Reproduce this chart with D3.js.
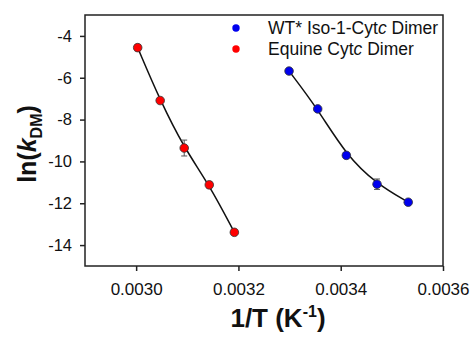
<!DOCTYPE html>
<html>
<head>
<meta charset="utf-8">
<script src="https://cdn.jsdelivr.net/npm/d3@7"></script>
<style>
  body { margin: 0; background: #fff; }
  text { font-family: "Liberation Sans", Arial, sans-serif; }
</style>
</head>
<body>
<script>
// values
var equineX = [0.003003, 0.003047, 0.003094, 0.003143, 0.003192];
var equineY = [-4.56, -7.09, -9.36, -11.12, -13.39];
var equineErr = [0.15, 0.08, 0.38, 0.15, 0.05];

var wtX = [0.003299, 0.003355, 0.003411, 0.003471, 0.003532];
var wtY = [-5.68, -7.49, -9.71, -11.09, -11.95];
var wtErr = [0.05, 0.05, 0.05, 0.25, 0.05];

var xTicks = [0.0030, 0.0032, 0.0034, 0.0036];
var yTicks = [-4, -6, -8, -10, -12, -14];
var legendLabels = ["WT* Iso-1-Cyt", "Equine Cyt"];

var width = 471, height = 340;
var svg = d3.select("body").append("svg")
    .attr("width", width)
    .attr("height", height);

var x = d3.scaleLinear().domain([0.0029, 0.0036]).range([85, 443]);
var y = d3.scaleLinear().domain([-15, -3]).range([266, 15]);

// frame
svg.append("rect")
    .attr("x", 85).attr("y", 15)
    .attr("width", 358).attr("height", 251)
    .attr("fill", "none").attr("stroke", "#222").attr("stroke-width", 1.5);

var xAxis = svg.append("g")
    .attr("transform", "translate(0,266)")
    .call(d3.axisBottom(x).tickValues(xTicks).tickSize(5).tickPadding(12)
        .tickFormat(d3.format(".4f")));
var yAxis = svg.append("g")
    .attr("transform", "translate(85,0)")
    .call(d3.axisLeft(y).tickValues(yTicks).tickSize(5).tickPadding(8)
        .tickFormat(function(d) { return d; }));

[xAxis, yAxis].forEach(function(a, i) {
  a.select(".domain").remove();
  a.selectAll("line").attr("stroke", "#222").attr("stroke-width", 1.5);
  a.selectAll("text").attr("font-size", i == 0 ? 17 : 16.5).attr("fill", "#111")
    .style("font-family", "Liberation Sans, Arial, sans-serif");
});

function series(xs, ys, errs, color) {
  var pts = xs.map(function(d, i) { return { x: d, y: ys[i], e: errs[i] }; });

  // smooth fit-like curve
  var line = d3.line()
      .x(function(d) { return x(d.x); })
      .y(function(d) { return y(d.y); })
      .curve(d3.curveBasis);
  svg.append("path").datum(pts)
      .attr("d", line)
      .attr("fill", "none").attr("stroke", "#111").attr("stroke-width", 1.5);

  var eb = svg.append("g").attr("stroke", "#555").attr("stroke-width", 1);
  pts.forEach(function(d) {
    eb.append("line")
      .attr("x1", x(d.x)).attr("x2", x(d.x))
      .attr("y1", y(d.y - d.e)).attr("y2", y(d.y + d.e));
    [d.y - d.e, d.y + d.e].forEach(function(v) {
      eb.append("line")
        .attr("x1", x(d.x) - 3).attr("x2", x(d.x) + 3)
        .attr("y1", y(v)).attr("y2", y(v));
    });
  });

  svg.append("g").selectAll("circle").data(pts).enter().append("circle")
      .attr("cx", function(d) { return x(d.x); })
      .attr("cy", function(d) { return y(d.y); })
      .attr("r", 4.3)
      .attr("fill", color)
      .attr("stroke", "#333").attr("stroke-width", 0.8);
}

series(equineX, equineY, equineErr, "#ff0000");
series(wtX, wtY, wtErr, "#0000ee");

// legend
var colors = ["#0000ee", "#ff0000"];
legendLabels.forEach(function(lab, i) {
  var ly = 28 + i * 21;
  svg.append("circle").attr("cx", 236).attr("cy", ly).attr("r", 3.7)
    .attr("fill", colors[i]);
  var t = svg.append("text").attr("x", 268).attr("y", ly + 6)
    .attr("font-size", 17.5).attr("fill", "#111");
  t.append("tspan").text(lab);
  t.append("tspan").attr("font-style", "italic").text("c");
  t.append("tspan").text(" Dimer");
});

// axis titles
var xt = svg.append("text")
    .attr("x", 278).attr("y", 327)
    .attr("text-anchor", "middle")
    .attr("font-size", 26).attr("font-weight", "bold").attr("fill", "#111");
xt.append("tspan").text("1/T (K");
xt.append("tspan").attr("font-size", 16).attr("dy", -10).text("-1");
xt.append("tspan").attr("dy", 10).text(")");

var yt = svg.append("text")
    .attr("transform", "translate(36,144) rotate(-90)")
    .attr("text-anchor", "middle")
    .attr("font-size", 25).attr("font-weight", "bold").attr("fill", "#111");
yt.append("tspan").text("ln(");
yt.append("tspan").attr("font-style", "italic").text("k");
yt.append("tspan").attr("font-size", 16).attr("dy", 6).text("DM");
yt.append("tspan").attr("dy", -6).text(")");
</script>
</body>
</html>
